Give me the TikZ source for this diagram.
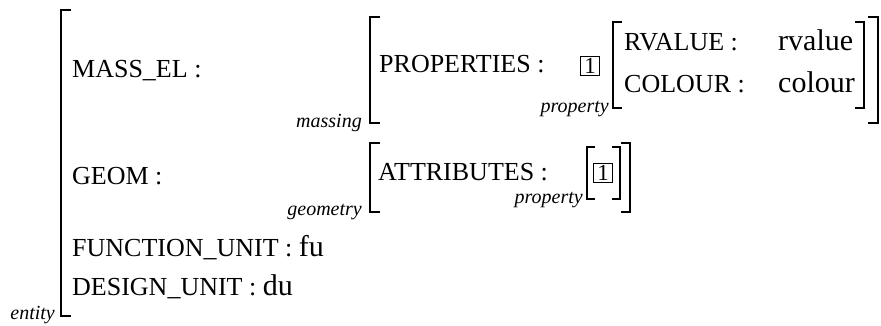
\documentclass[tikz,border=0pt]{standalone}
\usepackage{fontspec}
\setmainfont{Liberation Serif}
\usepackage{tikz}
\newcommand{\valfont}{\fontsize{30}{36}\selectfont}

\begin{document}
\begin{tikzpicture}[x=1pt,y=-1pt,line cap=butt,line join=miter,
  attr/.style={anchor=base west,inner sep=0pt,font=\fontsize{26}{31}\selectfont},
  val/.style={anchor=base west,inner sep=0pt,font=\valfont},
  tag/.style={anchor=base east,inner sep=0pt,font=\fontsize{20}{24}\selectfont\itshape},
  brk/.style={line width=1.5pt},
  tagbox/.style={draw,line width=0.8pt,minimum size=19pt,inner sep=0pt,
    font=\fontsize{23}{26}\selectfont}]
  \useasboundingbox (0,0) rectangle (881,326);

  % Outer matrix (entity)
  \draw[line width=2pt] (71,10)--(61,10)--(61,316)--(71,316);
  \node[tag] (lent) at (55,319) {entity};
  \node[attr] (massel) at (72,78) {MASS\_EL :};
  \node[attr] (geom) at (72,185) {GEOM :};
  \node[attr] (funit) at (72,256) {FUNCTION\_UNIT : \valfont fu};
  \node[attr] (dunit) at (72,295) {DESIGN\_UNIT : \valfont du};

  % Value of MASS_EL (massing)
  \draw[brk] (380,17)--(370,17)--(370,123)--(380,123);
  \draw[brk] (868,17)--(878,17)--(878,123)--(868,123);
  \node[tag] (lmass) at (362,128) {massing};
  \node[attr] (props) at (379,73) {PROPERTIES :};
  \node[tagbox] (box1) at (590,66) {1};
  \node[tag] (lprop1) at (609,113) {property};
  \draw[brk] (622,22)--(613,22)--(613,108)--(622,108);
  \draw[brk] (855,22)--(864,22)--(864,108)--(855,108);
  \node[attr] (rval) at (624,51) {RVALUE :};
  \node[val] (rvalv) at (778,51) {rvalue};
  \node[attr] (col) at (624,93) {COLOUR :};
  \node[val] (colv) at (778,93) {colour};

  % Value of GEOM (geometry), shares tag 1
  \draw[brk] (380,143)--(370,143)--(370,212)--(380,212);
  \draw[brk] (621,143)--(630,143)--(630,212)--(621,212);
  \node[tag] (lgeom) at (362,215) {geometry};
  \node[attr] (attrs) at (378,181) {ATTRIBUTES :};
  \node[tag] (lprop2) at (583,203) {property};
  \draw[brk] (595,147)--(587,147)--(587,199)--(595,199);
  \draw[brk] (612,147)--(620,147)--(620,199)--(612,199);
  \node[tagbox] (box2) at (603,173) {1};
\end{tikzpicture}
\end{document}
